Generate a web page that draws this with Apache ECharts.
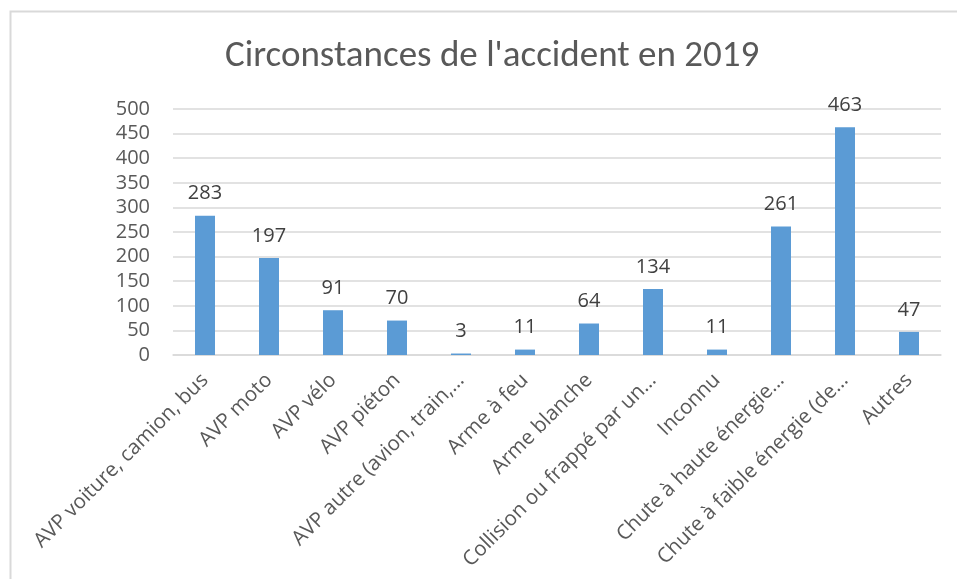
<!DOCTYPE html>
<html>
<head>
<meta charset="utf-8">
<script src="https://cdn.jsdelivr.net/npm/echarts@6/dist/echarts.min.js"></script>
<style>
    html, body { margin: 0; padding: 0; background: #fff; }
    #chart { width: 957px; height: 579px; }
</style>
</head>
<body>
<div id="chart"></div>
<script>
const chartTitle = "Circonstances de l'accident en 2019";

const categories = [
    'AVP voiture, camion, bus',
    'AVP moto',
    'AVP vélo',
    'AVP piéton',
    'AVP autre (avion, train,…',
    'Arme à feu',
    'Arme blanche',
    'Collision ou frappé par un…',
    'Inconnu',
    'Chute à haute énergie…',
    'Chute à faible énergie (de…',
    'Autres'
];

const values = [283, 197, 91, 70, 3, 11, 64, 134, 11, 261, 463, 47];

const yTicks = [0, 50, 100, 150, 200, 250, 300, 350, 400, 450, 500];

const titleFont = 'Carlito, Lato, sans-serif';
const font = '"Open Sans", "Noto Sans", sans-serif';

window.onload = () => {
    let chart = echarts.init(document.getElementById('chart'));

    chart.setOption({
        backgroundColor: '#ffffff',
        animation: false,
        title: {
            text: chartTitle,
            left: 220,
            top: 33,
            textStyle: {
                fontFamily: titleFont,
                fontSize: 37,
                fontWeight: 'normal',
                color: '#595959'
            }
        },
        graphic: [
            {
                type: 'polyline',
                shape: { points: [[10.5, 579], [10.5, 11.5], [957, 11.5]] },
                style: { stroke: '#d9d9d9', lineWidth: 2, fill: null }
            }
        ],
        grid: {
            left: 173,
            right: 16,
            top: 109,
            bottom: 224,
            containLabel: false
        },
        xAxis: {
            type: 'category',
            data: categories,
            axisTick: { show: false },
            axisLine: { lineStyle: { color: '#d9d9d9', width: 1.5 } },
            axisLabel: {
                interval: 0,
                rotate: 45,
                margin: 22,
                fontFamily: font,
                fontSize: 20.5,
                color: '#595959'
            }
        },
        yAxis: {
            type: 'value',
            min: yTicks[0],
            max: yTicks[yTicks.length - 1],
            interval: 50,
            axisLine: { show: false },
            axisTick: { show: false },
            splitLine: { lineStyle: { color: '#d9d9d9', width: 1.5 } },
            axisLabel: {
                margin: 23,
                fontFamily: font,
                fontSize: 20,
                color: '#595959'
            }
        },
        series: [
            {
                type: 'bar',
                data: values,
                barWidth: 20,
                itemStyle: { color: '#5b9bd5' },
                label: {
                    show: true,
                    position: 'top',
                    distance: 12,
                    fontFamily: font,
                    fontSize: 20,
                    color: '#404040'
                }
            }
        ]
    });
};
</script>
</body>
</html>
